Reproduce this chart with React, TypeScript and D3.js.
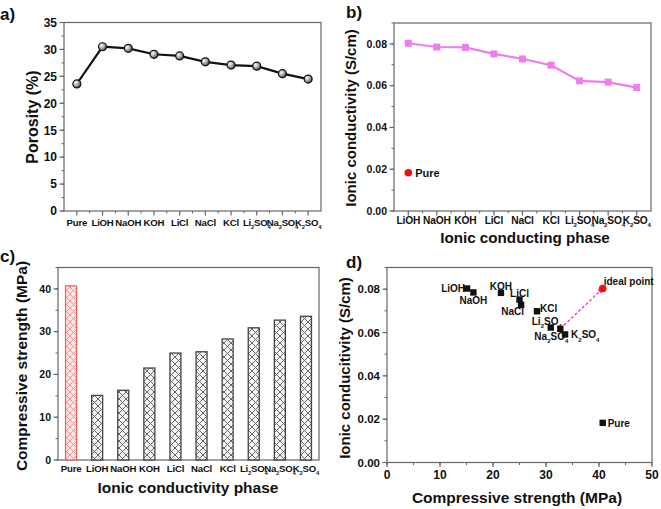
import React from "react";
import * as d3 from "d3";

const categories = ["Pure", "LiOH", "NaOH", "KOH", "LiCl", "NaCl", "KCl", "Li_2SO_4", "Na_2SO_4", "K_2SO_4"];
const porosity = [23.6, 30.5, 30.2, 29.1, 28.8, 27.7, 27.1, 26.9, 25.5, 24.5];
const phaseCategories = categories.slice(1);
const conductivity = [0.0803, 0.0785, 0.0783, 0.0752, 0.0728, 0.0698, 0.0623, 0.0617, 0.0591];
const pureConductivity = 0.0183;
const strength = [40.7, 15.1, 16.3, 21.5, 25.0, 25.3, 28.3, 30.9, 32.7, 33.6];
const idealPoint = { x: 40.7, y: 0.0803, from: "Na_2SO_4" };

const ticksPorosity = [0, 5, 10, 15, 20, 25, 30, 35];
const ticksCond = [0, 0.02, 0.04, 0.06, 0.08];
const ticksStrength = [0, 10, 20, 30, 40];
const ticksStrengthX = [0, 10, 20, 30, 40, 50];

const FONT = "'Liberation Sans', Arial, sans-serif";
const FRAME = "#666";

function Chem({ text, x, y, size, anchor = "middle", fill = "#111", ls = 0 }: any) {
  const parts = text.split(/_(\d)/);
  const sub = size * 0.32;
  return (
    <text x={x} y={y} fontSize={size} fontFamily={FONT} fontWeight="bold" textAnchor={anchor} fill={fill} letterSpacing={ls}>
      {parts.map((p: string, i: number) =>
        i % 2 ? (
          <tspan key={i} dy={sub} fontSize={size * 0.6}>{p}</tspan>
        ) : (
          <tspan key={i} dy={i > 0 ? -sub : 0}>{p}</tspan>
        )
      )}
    </text>
  );
}

function Frame({ l, r, t, b }: any) {
  return <rect x={l} y={t} width={r - l} height={b - t} fill="none" stroke={FRAME} strokeWidth={1.2} />;
}

function YAxis({ scale, ticks, minorStep, x, fmt, size }: any) {
  const [d0, d1] = scale.domain();
  const minors = d3.range(d0, d1 + 1e-9, minorStep);
  return (
    <g>
      {minors.map((v: number, i: number) => (
        <line key={"m" + i} x1={x - 2.5} x2={x} y1={scale(v)} y2={scale(v)} stroke={FRAME} strokeWidth={1} />
      ))}
      {ticks.map((v: number, i: number) => (
        <g key={i}>
          <line x1={x - 4.5} x2={x} y1={scale(v)} y2={scale(v)} stroke={FRAME} strokeWidth={1.2} />
          <text x={x - 7} y={scale(v) + size * 0.36} textAnchor="end" fontSize={size} fontFamily={FONT} fontWeight="bold" fill="#111">
            {fmt(v)}
          </text>
        </g>
      ))}
    </g>
  );
}

function CatXAxis({ scale, cats, y, size, minor, ticks = true, labelDy = 12, ls = 0 }: any) {
  const step = scale.step();
  return (
    <g>
      {cats.map((c: string, i: number) => (
        <g key={i}>
          {ticks && <line x1={scale(c)} x2={scale(c)} y1={y} y2={y + 4.5} stroke={FRAME} strokeWidth={1.2} />}
          {minor && i < cats.length - 1 && (
            <line x1={scale(c)! + step / 2} x2={scale(c)! + step / 2} y1={y} y2={y + 2.5} stroke={FRAME} strokeWidth={1} />
          )}
          <Chem text={c} x={scale(c)} y={y + labelDy} size={size} ls={ls} />
        </g>
      ))}
    </g>
  );
}

function PanelLabel({ x, y, t }: any) {
  return (
    <text x={x} y={y} fontSize={17} fontFamily={FONT} fontWeight="bold" fill="#111">{t}</text>
  );
}

function VTitle({ x, y, t, size }: any) {
  return (
    <text transform={`translate(${x},${y}) rotate(-90)`} textAnchor="middle" fontSize={size} fontFamily={FONT} fontWeight="bold" fill="#111">
      {t}
    </text>
  );
}

function HTitle({ x, y, t, size }: any) {
  return (
    <text x={x} y={y} textAnchor="middle" fontSize={size} fontFamily={FONT} fontWeight="bold" fill="#111">{t}</text>
  );
}

function PanelA() {
  const l = 64, r = 321, t = 22.5, b = 211;
  const x = d3.scalePoint().domain(categories).range([l, r]).padding(0.5);
  const y = d3.scaleLinear().domain([0, 35]).range([b, t]);
  const line = d3.line<number>().x((_, i) => x(categories[i])!).y((v) => y(v));
  return (
    <g>
      <PanelLabel x={0} y={20} t="a)" />
      <Frame l={l} r={r} t={t} b={b} />
      <YAxis scale={y} ticks={ticksPorosity} minorStep={2.5} x={l} fmt={(v: number) => String(v)} size={12} />
      <CatXAxis scale={x} cats={categories} y={b} size={9.6} minor labelDy={15} ls={-0.2} />
      <path d={line(porosity)!} fill="none" stroke="#111" strokeWidth={2.2} />
      {porosity.map((v, i) => (
        <circle key={i} cx={x(categories[i])} cy={y(v)} r={4} fill="url(#ballGrad)" stroke="#111" strokeWidth={1.2} />
      ))}
      <VTitle x={38} y={117} t="Porosity (%)" size={16} />
    </g>
  );
}

function PanelB() {
  const l = 394, r = 651, t = 23, b = 211;
  const x = d3.scalePoint().domain(phaseCategories).range([l, r]).padding(0.5);
  const y = d3.scaleLinear().domain([0, 0.09]).range([b, t]);
  const line = d3.line<number>().x((_, i) => x(phaseCategories[i])!).y((v) => y(v));
  const pink = "#f07cf0";
  return (
    <g>
      <PanelLabel x={346} y={18} t="b)" />
      <Frame l={l} r={r} t={t} b={b} />
      <YAxis scale={y} ticks={ticksCond} minorStep={0.01} x={l} fmt={d3.format(".2f")} size={10.5} />
      <CatXAxis scale={x} cats={phaseCategories} y={b} size={10.2} minor labelDy={13} ls={-0.2} />
      <path d={line(conductivity)!} fill="none" stroke={pink} strokeWidth={2.2} />
      {conductivity.map((v, i) => (
        <rect key={i} x={x(phaseCategories[i])! - 3.5} y={y(v) - 3.5} width={7} height={7} fill={pink} />
      ))}
      <circle cx={x(phaseCategories[0])} cy={y(pureConductivity)} r={3.8} fill="#f01010" />
      <text x={x(phaseCategories[0])! + 7} y={y(pureConductivity) + 4} fontSize={11} fontFamily={FONT} fontWeight="bold" fill="#111">Pure</text>
      <VTitle x={356} y={118} t="Ionic conductivity (S/cm)" size={15} />
      <HTitle x={525} y={243} t="Ionic conducting phase" size={15.2} />
    </g>
  );
}

function PanelC() {
  const l = 58, r = 319, t = 267.5, b = 460;
  const x = d3.scalePoint().domain(categories).range([l, r]).padding(0.5);
  const y = d3.scaleLinear().domain([0, 45]).range([b, t]);
  const w = 11;
  return (
    <g>
      <PanelLabel x={0} y={262} t="c)" />
      <Frame l={l} r={r} t={t} b={b} />
      <YAxis scale={y} ticks={ticksStrength} minorStep={5} x={l} fmt={(v: number) => String(v)} size={10.5} />
      {strength.map((v, i) => (
        <rect key={i} x={x(categories[i])! - w / 2} y={y(v)} width={w} height={b - y(v)}
          fill={i === 0 ? "url(#hatchRed)" : "url(#hatchGray)"} stroke={i === 0 ? "#f06060" : "#444"} strokeWidth={1.3} />
      ))}
      <CatXAxis scale={x} cats={categories} y={b} size={9.6} ticks={false} labelDy={12} ls={-0.2} />
      <VTitle x={27} y={366} t="Compressive strength (MPa)" size={15.5} />
      <HTitle x={188} y={493} t="Ionic conductivity phase" size={15.5} />
    </g>
  );
}

const dLabels: any = {
  Pure: { dx: 5, dy: 4, a: "start" },
  LiOH: { dx: -2, dy: 3, a: "end" },
  NaOH: { dx: 0, dy: 12, a: "middle" },
  KOH: { dx: 0, dy: -3, a: "middle" },
  LiCl: { dx: 0, dy: -3, a: "middle" },
  NaCl: { dx: 3, dy: 10, a: "end" },
  KCl: { dx: 3, dy: 1, a: "start" },
  Li_2SO_4: { dx: -4, dy: -3, a: "middle" },
  Na_2SO_4: { dx: -9, dy: 11, a: "middle" },
  K_2SO_4: { dx: 6, dy: 4, a: "start" },
};

function PanelD() {
  const l = 387, r = 652, t = 267.5, b = 462.5;
  const x = d3.scaleLinear().domain([0, 50]).range([l, r]);
  const y = d3.scaleLinear().domain([0, 0.09]).range([b, t]);
  const yVals = [pureConductivity, ...conductivity];
  const fromIdx = categories.indexOf(idealPoint.from);
  const fx = x(strength[fromIdx]), fy = y(yVals[fromIdx]);
  const tx = x(idealPoint.x), ty = y(idealPoint.y);
  const minorsX = d3.range(0, 50.001, 5);
  return (
    <g>
      <PanelLabel x={346} y={268} t="d)" />
      <Frame l={l} r={r} t={t} b={b} />
      <YAxis scale={y} ticks={ticksCond} minorStep={0.01} x={l} fmt={d3.format(".2f")} size={11.5} />
      {minorsX.map((v, i) => (
        <line key={"mx" + i} x1={x(v)} x2={x(v)} y1={b} y2={b + 2.5} stroke={FRAME} strokeWidth={1} />
      ))}
      {ticksStrengthX.map((v, i) => (
        <g key={i}>
          <line x1={x(v)} x2={x(v)} y1={b} y2={b + 4.5} stroke={FRAME} strokeWidth={1.2} />
          <text x={x(v)} y={b + 16} textAnchor="middle" fontSize={12} fontFamily={FONT} fontWeight="bold" fill="#111">{v}</text>
        </g>
      ))}
      <line x1={fx} y1={fy} x2={tx - (tx - fx) * 0.06} y2={ty + (fy - ty) * 0.06} stroke="#f040d0" strokeWidth={1.4} strokeDasharray="3,2" markerEnd="url(#arrowPink)" />
      {strength.map((s, i) => (
        <rect key={i} x={x(s) - 3.2} y={y(yVals[i]) - 3.2} width={6.4} height={6.4} fill="#111" />
      ))}
      {strength.map((s, i) => {
        const o = dLabels[categories[i]];
        return <Chem key={"l" + i} text={categories[i]} x={x(s) + o.dx} y={y(yVals[i]) + o.dy} size={10} anchor={o.a} />;
      })}
      <circle cx={tx} cy={ty} r={3.8} fill="#f01010" />
      <text x={tx + 1} y={ty - 4} fontSize={10} fontFamily={FONT} fontWeight="bold" fill="#111">ideal point</text>
      <VTitle x={350} y={368} t="Ionic conducitivity (S/cm)" size={15} />
      <HTitle x={517} y={503} t="Compressive strength (MPa)" size={15.5} />
    </g>
  );
}

export default function App() {
  return (
    <svg width={661} height={509} viewBox="0 0 661 509" style={{ position: "absolute", left: 0, top: 0, background: "#fff" }}>
      <defs>
        <radialGradient id="ballGrad" cx="0.35" cy="0.35" r="0.7">
          <stop offset="0" stopColor="#fff" />
          <stop offset="0.6" stopColor="#999" />
          <stop offset="1" stopColor="#333" />
        </radialGradient>
        <pattern id="hatchGray" width="7" height="7" patternUnits="userSpaceOnUse">
          <rect width="7" height="7" fill="#f4f4f4" />
          <path d="M-1,-1 L8,8 M8,-1 L-1,8" stroke="#666" strokeWidth={1} />
        </pattern>
        <pattern id="hatchRed" width="7" height="7" patternUnits="userSpaceOnUse">
          <rect width="7" height="7" fill="#fde8e8" />
          <path d="M-1,-1 L8,8 M8,-1 L-1,8" stroke="#f59090" strokeWidth={1} />
        </pattern>
        <marker id="arrowPink" viewBox="0 0 10 10" refX="2" refY="5" markerWidth="4" markerHeight="4" orient="auto">
          <path d="M0,0 L10,5 L0,10 z" fill="#f040d0" />
        </marker>
      </defs>
      <rect width={661} height={509} fill="#fff" />
      <PanelA />
      <PanelB />
      <PanelC />
      <PanelD />
    </svg>
  );
}
